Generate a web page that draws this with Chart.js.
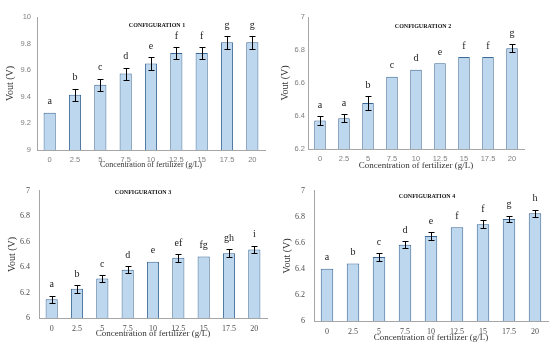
<!DOCTYPE html>
<html lang="en">
<head>
    <meta charset="UTF-8">
    <title>Vout vs fertilizer concentration</title>
    <style>
        body {
            margin: 0;
            background: #fff;
        }
        .wrap {
            position: relative;
            width: 550px;
            height: 354px;
        }
        canvas {
            position: absolute;
        }
    </style>
</head>
<body>
    <div class="wrap">
        <canvas id="c1" width="275" height="177" style="left:0;top:0"></canvas>
        <canvas id="c2" width="275" height="177" style="left:275px;top:0"></canvas>
        <canvas id="c3" width="275" height="177" style="left:0;top:177px"></canvas>
        <canvas id="c4" width="275" height="177" style="left:275px;top:177px"></canvas>
    </div>
    <script src="https://cdn.jsdelivr.net/npm/chart.js"></script>
    <script>
        // concentration of fertilizer (g/L)
        const categories = ['0', '2.5', '5', '7.5', '10', '12.5', '15', '17.5', '20'];

        const config1Vout = [9.28, 9.415, 9.49, 9.575, 9.65, 9.73, 9.73, 9.81, 9.81];
        const config1Err = [0, 0.045, 0.047, 0.045, 0.046, 0.045, 0.045, 0.047, 0.047];
        const config1Letters = ['a', 'b', 'c', 'd', 'e', 'f', 'f', 'g', 'g'];

        const config2Vout = [6.373, 6.387, 6.479, 6.638, 6.68, 6.719, 6.757, 6.757, 6.811];
        const config2Err = [0.026, 0.024, 0.04, 0, 0, 0, 0, 0, 0.024];
        const config2Letters = ['a', 'a', 'b', 'c', 'd', 'e', 'f', 'f', 'g'];

        const config3Vout = [6.147, 6.23, 6.311, 6.38, 6.443, 6.473, 6.484, 6.509, 6.539];
        const config3Err = [0.029, 0.03, 0.025, 0.025, 0, 0.03, 0, 0.03, 0.03];
        const config3Letters = ['a', 'b', 'c', 'd', 'e', 'ef', 'fg', 'gh', 'i'];

        const config4Vout = [6.401, 6.442, 6.492, 6.586, 6.652, 6.721, 6.744, 6.784, 6.827];
        const config4Err = [0, 0, 0.03, 0.028, 0.03, 0, 0.028, 0.025, 0.027];
        const config4Letters = ['a', 'b', 'c', 'd', 'e', 'f', 'f', 'g', 'h'];

        // y axis ranges [min, max]
        const yRange1 = [9, 10];
        const yRange2 = [6.2, 7];
        const yRange3 = [6, 7];
        const yRange4 = [6, 7];
        const yStep = 0.2;

        const xTitle = 'Concentration of fertilizer (g/L)';
        const yTitle = 'Vout (V)';

        const serif = '"Liberation Serif", "Times New Roman", serif';
        const sans = '"Liberation Sans", Arial, sans-serif';

        // draws error bars, significance letters and the small panel title
        const panelDecor = {
            id: 'panelDecor',
            afterDatasetsDraw(chart, args, opts) {
                const ctx = chart.ctx;
                const y = chart.scales.y;
                const meta = chart.getDatasetMeta(0);
                const data = chart.data.datasets[0].data;
                ctx.save();
                ctx.strokeStyle = '#000';
                ctx.lineWidth = 1;
                opts.errors.forEach((e, i) => {
                    if (!e) return;
                    const cx = Math.round(meta.data[i].x) + 0.5;
                    const top = Math.round(y.getPixelForValue(data[i] + e)) + 0.5;
                    const bot = Math.round(y.getPixelForValue(data[i] - e)) + 0.5;
                    ctx.beginPath();
                    ctx.moveTo(cx, top); ctx.lineTo(cx, bot);
                    ctx.moveTo(cx - 3, top); ctx.lineTo(cx + 3, top);
                    ctx.moveTo(cx - 3, bot); ctx.lineTo(cx + 3, bot);
                    ctx.stroke();
                });
                ctx.fillStyle = '#1a1a1a';
                ctx.textAlign = 'center';
                ctx.textBaseline = 'middle';
                ctx.font = '10px ' + serif;
                opts.letters.forEach((l, i) => {
                    const py = y.getPixelForValue(data[i] + opts.errors[i]);
                    ctx.fillText(l, meta.data[i].x, py - 11);
                });
                ctx.font = 'bold 6px ' + serif;
                ctx.fillStyle = '#111';
                ctx.fillText(opts.title, opts.titleX, opts.titleY);
                ctx.restore();
            }
        };

        function makePanel(id, values, errors, letters, range, title, lay) {
            const ctx = document.getElementById(id).getContext('2d');
            const tickFont = lay.serifTicks ? { family: serif, size: 8 } : { family: sans, size: 7.5 };
            const tickColor = lay.serifTicks ? '#4d4d4d' : '#7f7f7f';
            return new Chart(ctx, {
                type: 'bar',
                data: {
                    labels: categories,
                    datasets: [{
                        data: values,
                        backgroundColor: '#bdd7ee',
                        borderColor: '#3a6794',
                        borderWidth: 1,
                        barPercentage: 0.48,
                        categoryPercentage: 1
                    }]
                },
                options: {
                    responsive: false,
                    animation: false,
                    devicePixelRatio: 1,
                    layout: {
                        padding: { left: 0, right: lay.right, top: lay.top, bottom: 0 }
                    },
                    plugins: {
                        legend: { display: false },
                        tooltip: { enabled: false },
                        panelDecor: {
                            errors: errors,
                            letters: letters,
                            title: title,
                            titleX: lay.titleX,
                            titleY: lay.titleY
                        }
                    },
                    scales: {
                        x: {
                            grid: { display: false, drawTicks: false },
                            border: { display: true, color: '#a6a6a6', width: 1 },
                            ticks: {
                                color: tickColor,
                                font: tickFont,
                                padding: lay.xTickPad,
                                maxRotation: 0
                            },
                            title: {
                                display: true,
                                text: xTitle,
                                color: '#333',
                                font: { family: serif, size: lay.xTitleSize },
                                padding: { top: 0, bottom: lay.xTitlePad }
                            },
                            afterFit: (s) => { s.height = lay.xHeight; }
                        },
                        y: {
                            min: range[0],
                            max: range[1],
                            grid: { display: false, drawTicks: false },
                            border: { display: true, color: '#a6a6a6', width: 1 },
                            ticks: {
                                stepSize: yStep,
                                color: tickColor,
                                font: tickFont,
                                padding: lay.yTickPad,
                                callback: (v) => parseFloat(v.toFixed(1)).toString()
                            },
                            title: {
                                display: true,
                                text: yTitle,
                                color: '#333',
                                font: { family: serif, size: 10 },
                                padding: { top: lay.yTitlePad, bottom: 0 }
                            },
                            afterFit: (s) => { s.width = lay.yWidth; }
                        }
                    }
                },
                plugins: [panelDecor]
            });
        }

        makePanel('c1', config1Vout, config1Err, config1Letters, yRange1, 'CONFIGURATION 1',
            { yWidth: 37, right: 10, top: 17, xHeight: 27, xTickPad: 5.2, yTickPad: 6, xTitlePad: 7.2, xTitleSize: 8, yTitlePad: 4, titleX: 157, titleY: 25 });
        makePanel('c2', config2Vout, config2Err, config2Letters, yRange2, 'CONFIGURATION 2',
            { yWidth: 33, right: 26, top: 17, xHeight: 28, xTickPad: 5.5, yTickPad: 3, xTitlePad: 5.9, xTitleSize: 9, yTitlePad: 4, titleX: 148, titleY: 26 });
        makePanel('c3', config3Vout, config3Err, config3Letters, yRange3, 'CONFIGURATION 3',
            { yWidth: 39, right: 8, top: 10, xHeight: 36, xTickPad: 6.2, yTickPad: 9, xTitlePad: 15.3, xTitleSize: 9, yTitlePad: 6, titleX: 143, titleY: 15, serifTicks: true });
        makePanel('c4', config4Vout, config4Err, config4Letters, yRange4, 'CONFIGURATION 4',
            { yWidth: 39, right: 2, top: 13, xHeight: 33, xTickPad: 6.2, yTickPad: 9, xTitlePad: 10.9, xTitleSize: 9, yTitlePad: 6, titleX: 152, titleY: 19, serifTicks: true });
    </script>
</body>
</html>
